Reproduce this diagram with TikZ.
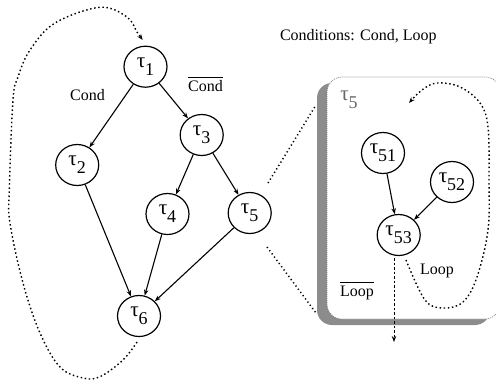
\documentclass[tikz,border=0pt]{standalone}
\usepackage{fontspec}
\setmainfont{Liberation Serif}
\usetikzlibrary{arrows.meta,shapes.geometric}
\newcommand{\tsub}[1]{τ\raisebox{-8pt}{\fontsize{18}{18}\selectfont #1}}
\begin{document}
\begin{tikzpicture}[x=1pt,y=-1pt,
  tnode/.style={ellipse,draw,line width=1.2pt,minimum width=43pt,minimum height=41pt,inner sep=0pt,font=\fontsize{21}{21}\selectfont},
  edge/.style={line width=1.1pt,-{Stealth[length=6pt,width=4.5pt]}},
  lbl/.style={font=\fontsize{16}{18}\selectfont,anchor=base,inner sep=0pt},
  dots/.style={line width=1.4pt,dash pattern=on 1.5pt off 2.6pt},
  tipd/.style={-{Stealth[length=6pt,width=4.5pt]}},
]
\useasboundingbox (0,0) rectangle (496,381);
% panel
\fill[black!45,rounded corners=15pt] (317,83) rectangle (490,325);
\draw[fill=white,draw=gray,line width=0.7pt,dash pattern=on 1pt off 1pt,rounded corners=15pt] (327,77) rectangle (500,319);
% nodes
\node[tnode] (t1) at (145.5,66.7) {\tsub{1}};
\node[tnode] (t2) at (77.2,165) {\tsub{2}};
\node[tnode] (t3) at (201.7,135) {\tsub{3}};
\node[tnode] (t4) at (167.5,214) {\tsub{4}};
\node[tnode] (t5) at (249.7,213) {\tsub{5}};
\node[tnode] (t6) at (139,316) {\tsub{6}};
\node[tnode] (t51) at (383,153) {\tsub{51}};
\node[tnode] (t52) at (452,182) {\tsub{52}};
\node[tnode] (t53) at (398.7,235) {\tsub{53}};
\node[inner sep=0pt,text=black!60,font=\fontsize{21}{21}\selectfont] (p5) at (349,100) {\tsub{5}};
% edges
\draw[edge] (t1) -- (t2);
\draw[edge] (t1) -- (t3);
\draw[edge] (t3) -- (t4);
\draw[edge] (t3) -- (t5);
\draw[edge] (t2) -- (t6);
\draw[edge] (t4) -- (t6);
\draw[edge] (t5) -- (t6);
\draw[edge] (t51) -- (t53);
\draw[edge] (t52) -- (t53);
% labels
\node[lbl] (cc) at (358.3,40.7) {Conditions: Cond, Loop};
\node[lbl] (c1) at (87.5,100) {Cond};
\node[lbl] (c2) at (205.5,91.7) {$\overline{\hbox{\rule{0pt}{13pt}Cond}}$};
\node[lbl] (l1) at (437,274) {Loop};
\node[lbl] (l2) at (357,296.7) {$\overline{\hbox{\rule{0pt}{13pt}Loop}}$};
% zoom lines
\coordinate (za) at (268,183);
\coordinate (zb) at (316,105);
\coordinate (zc) at (267,247);
\coordinate (zd) at (316,313);
\draw[dots,line width=1.5pt,dash pattern=on 1.2pt off 2.8pt] (za) -- (zb);
\draw[dots,line width=1.5pt,dash pattern=on 1.2pt off 2.8pt] (zc) -- (zd);
% loops
\draw[dots,tipd] plot[smooth,tension=0.6] coordinates {(137,342) (123,360) (100,376.7) (83,378) (60,367) (40,333) (23,283) (10,223) (9.3,190) (13,100) (18,77) (30,50) (55,23) (100,7.3) (127,17) (137,32) (142.7,40)};
\draw[dots,tipd] plot[smooth,tension=0.6] coordinates {(406,260) (425,300) (443,308) (463,302) (477,277) (488,230) (489,180) (488,127) (480,103) (460,87) (437,83) (422,90) (409,103)};
\coordinate (ve) at (394,342);
\draw[line width=0.9pt,dash pattern=on 2.5pt off 2pt,tipd] (394,258) -- (ve);
\end{tikzpicture}
\end{document}
